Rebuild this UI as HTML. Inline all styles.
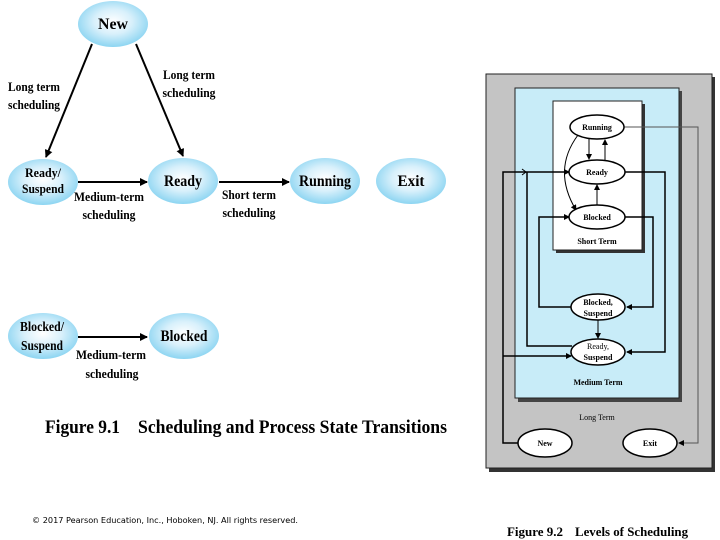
<!DOCTYPE html>
<html><head><meta charset="utf-8"><style>
html,body{margin:0;padding:0;background:#fff;width:720px;height:540px;overflow:hidden}
svg text{font-family:"Liberation Serif",serif;font-weight:bold}
</style></head><body>
<svg width="720" height="540" viewBox="0 0 720 540" xmlns="http://www.w3.org/2000/svg">
<defs>
<radialGradient id="g" cx="50%" cy="45%" r="60%">
<stop offset="0" stop-color="#ffffff"/><stop offset="0.45" stop-color="#d8f0fb"/><stop offset="1" stop-color="#7fd0f0"/>
</radialGradient>
<marker id="a" markerWidth="8" markerHeight="8" refX="7" refY="4" orient="auto" markerUnits="userSpaceOnUse"><path d="M0,0L8,4L0,8z" fill="#000"/></marker>
<marker id="s" markerWidth="6" markerHeight="6" refX="5" refY="3" orient="auto" markerUnits="userSpaceOnUse"><path d="M0,0L6,3L0,6z" fill="#000"/></marker>
</defs>
<!-- Figure 9.1 -->
<g fill="url(#g)">
<ellipse cx="113" cy="24" rx="35" ry="23"/>
<ellipse cx="43" cy="182" rx="35" ry="23"/>
<ellipse cx="183" cy="181" rx="35" ry="23"/>
<ellipse cx="325" cy="181" rx="35" ry="23"/>
<ellipse cx="411" cy="181" rx="35" ry="23"/>
<ellipse cx="43" cy="336" rx="35" ry="23"/>
<ellipse cx="184" cy="336" rx="35" ry="23"/>
</g>
<g stroke="#000" stroke-width="2" marker-end="url(#a)">
<line x1="92" y1="44" x2="46" y2="157"/>
<line x1="136" y1="44" x2="183" y2="156"/>
<line x1="78" y1="182" x2="147" y2="182"/>
<line x1="219" y1="182" x2="289" y2="182"/>
<line x1="78" y1="337" x2="147" y2="337"/>
</g>
<g text-anchor="middle" lengthAdjust="spacingAndGlyphs">
<text x="113" y="29" font-size="16" textLength="30" lengthAdjust="spacingAndGlyphs">New</text>
<text x="43" y="177" font-size="13" textLength="36" lengthAdjust="spacingAndGlyphs">Ready/</text>
<text x="43" y="193" font-size="13" textLength="42" lengthAdjust="spacingAndGlyphs">Suspend</text>
<text x="183" y="186" font-size="16" textLength="38" lengthAdjust="spacingAndGlyphs">Ready</text>
<text x="325" y="186" font-size="16" textLength="52" lengthAdjust="spacingAndGlyphs">Running</text>
<text x="411" y="186" font-size="16" textLength="27" lengthAdjust="spacingAndGlyphs">Exit</text>
<text x="42" y="331" font-size="14" textLength="44" lengthAdjust="spacingAndGlyphs">Blocked/</text>
<text x="42" y="350" font-size="14" textLength="42" lengthAdjust="spacingAndGlyphs">Suspend</text>
<text x="184" y="341" font-size="16" textLength="47" lengthAdjust="spacingAndGlyphs">Blocked</text>
</g>
<g font-size="13" text-anchor="middle">
<text x="34" y="91" textLength="52" lengthAdjust="spacingAndGlyphs">Long term</text>
<text x="34" y="109" textLength="52" lengthAdjust="spacingAndGlyphs">scheduling</text>
<text x="189" y="79" textLength="52" lengthAdjust="spacingAndGlyphs">Long term</text>
<text x="189" y="97" textLength="53" lengthAdjust="spacingAndGlyphs">scheduling</text>
<text x="109" y="201" textLength="70" lengthAdjust="spacingAndGlyphs">Medium-term</text>
<text x="109" y="219" textLength="53" lengthAdjust="spacingAndGlyphs">scheduling</text>
<text x="249" y="199" textLength="54" lengthAdjust="spacingAndGlyphs">Short term</text>
<text x="249" y="217" textLength="53" lengthAdjust="spacingAndGlyphs">scheduling</text>
<text x="111" y="359" textLength="70" lengthAdjust="spacingAndGlyphs">Medium-term</text>
<text x="112" y="378" textLength="53" lengthAdjust="spacingAndGlyphs">scheduling</text>
</g>
<text x="45" y="433" font-size="19" textLength="75" lengthAdjust="spacingAndGlyphs">Figure 9.1</text>
<text x="138" y="433" font-size="19" textLength="309" lengthAdjust="spacingAndGlyphs">Scheduling and Process State Transitions</text>
<text x="32" y="523" font-size="8" style="font-family:'DejaVu Sans',sans-serif;font-weight:normal" textLength="266" lengthAdjust="spacingAndGlyphs">© 2017 Pearson Education, Inc., Hoboken, NJ. All rights reserved.</text>
<text x="507" y="536" font-size="13" textLength="56" lengthAdjust="spacingAndGlyphs">Figure 9.2</text>
<text x="575" y="536" font-size="13" textLength="113" lengthAdjust="spacingAndGlyphs">Levels of Scheduling</text>
<!-- Figure 9.2 -->
<rect x="489" y="77" width="226" height="395" fill="#333"/>
<rect x="486" y="74" width="226" height="394" fill="#c4c4c4" stroke="#222" stroke-width="1"/>
<rect x="518" y="91" width="164" height="311" fill="#444"/>
<rect x="515" y="88" width="164" height="310" fill="#c8ecf8" stroke="#222" stroke-width="1"/>
<rect x="556" y="104" width="89" height="149" fill="#333"/>
<rect x="553" y="101" width="89" height="149" fill="#fff" stroke="#222" stroke-width="1"/>
<g fill="none" stroke="#000" stroke-width="1.5">
<polyline points="518,443 503,443 503,172 569,172" marker-end="url(#s)"/>
<polyline points="572,346 527,346 527,172"/>
<polyline points="503,356 571,356" marker-end="url(#s)"/>
<polyline points="625,172 665,172 665,352 627,352" marker-end="url(#s)"/>
<polyline points="572,307 539,307 539,217 569,217" marker-end="url(#s)"/>
<polyline points="625,217 653,217 653,307 627,307" marker-end="url(#s)"/>
<line x1="598" y1="320" x2="598" y2="338" marker-end="url(#s)" stroke-width="1"/>
<line x1="589" y1="139" x2="589" y2="159" marker-end="url(#s)" stroke-width="1"/>
<line x1="605" y1="160" x2="605" y2="140" marker-end="url(#s)" stroke-width="1"/>
<line x1="597" y1="205" x2="597" y2="185" marker-end="url(#s)" stroke-width="1"/>
<path d="M578,135 Q552,170 576,210" marker-end="url(#s)" stroke-width="1"/>
<polyline points="624,127 698,127 698,443 679,443" marker-end="url(#s)" stroke="#555" stroke-width="1"/>
<path d="M522,169 L526,172 L522,175" stroke-width="1"/>
</g>
<g fill="#fff" stroke="#000" stroke-width="1.5">
<ellipse cx="597" cy="127" rx="27" ry="12"/>
<ellipse cx="597" cy="172" rx="28" ry="12"/>
<ellipse cx="597" cy="217" rx="28" ry="12"/>
<ellipse cx="598" cy="307" rx="27" ry="13"/>
<ellipse cx="598" cy="352" rx="27" ry="13"/>
<ellipse cx="545" cy="443" rx="27" ry="14"/>
<ellipse cx="650" cy="443" rx="27" ry="14"/>
</g>
<g font-size="8" text-anchor="middle">
<text x="597" y="130">Running</text>
<text x="597" y="175">Ready</text>
<text x="597" y="220">Blocked</text>
<text x="598" y="305">Blocked,</text><text x="598" y="316">Suspend</text>
<text x="598" y="349" style="font-weight:normal">Ready,</text><text x="598" y="360">Suspend</text>
<text x="545" y="446">New</text>
<text x="650" y="446">Exit</text>
<text x="597" y="244">Short Term</text>
<text x="598" y="385">Medium Term</text>
<text x="597" y="420" style="font-weight:normal">Long Term</text>
</g>
</svg>
</body></html>
